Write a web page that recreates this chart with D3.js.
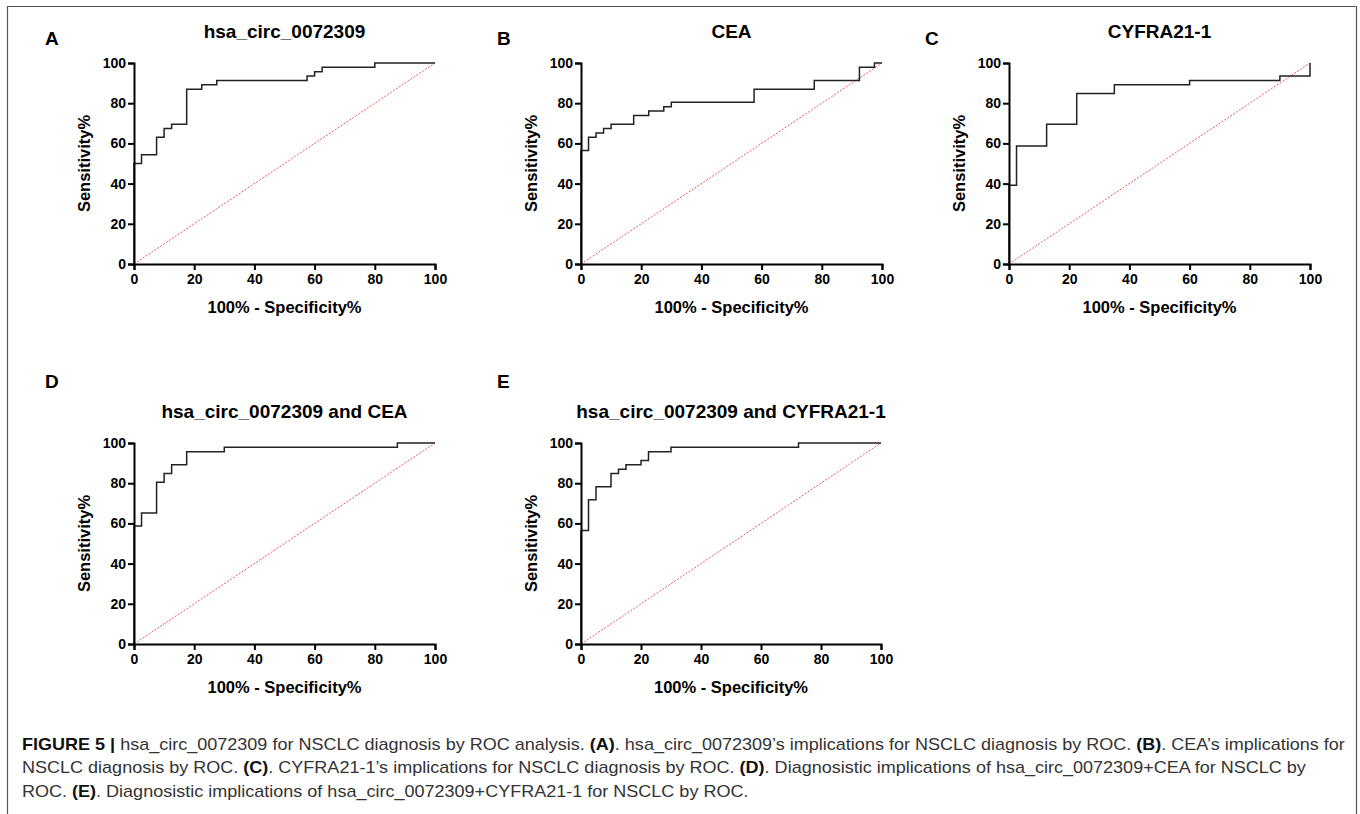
<!DOCTYPE html>
<html>
<head>
<meta charset="utf-8">
<script src="https://cdn.jsdelivr.net/npm/d3@7"></script>
<style>
  body { margin: 0; background: #ffffff; }
  svg { display: block; }
</style>
</head>
<body>
<div id="fig"></div>
<script>
// ROC points (x = 100% - specificity, y = sensitivity)
var rocA_fpr = [0, 0, 2.5, 7.5, 10, 12.5, 17.5, 22.5, 27.5, 57.5, 60, 62.5, 80, 100];
var rocA_tpr = [0, 50, 54.35, 63.04, 67.39, 69.57, 86.96, 89.13, 91.30, 93.48, 95.65, 97.83, 100, 100];

var rocB_fpr = [0, 0, 2.5, 5, 7.5, 10, 17.5, 22.5, 27.5, 30, 57.5, 77.5, 92.5, 97.5, 100];
var rocB_tpr = [0, 56.52, 63.04, 65.22, 67.39, 69.57, 73.91, 76.09, 78.26, 80.43, 86.96, 91.30, 97.83, 100, 100];

var rocC_fpr = [0, 0, 2.5, 12.5, 22.5, 35, 60, 90, 100];
var rocC_tpr = [0, 39.13, 58.70, 69.57, 84.78, 89.13, 91.30, 93.48, 100];

var rocD_fpr = [0, 0, 2.5, 7.5, 10, 12.5, 17.5, 30, 87.5, 100];
var rocD_tpr = [0, 58.70, 65.22, 80.43, 84.78, 89.13, 95.65, 97.83, 100, 100];

var rocE_fpr = [0, 0, 2.5, 5, 10, 12.5, 15, 20, 22.5, 30, 72.5, 100];
var rocE_tpr = [0, 56.52, 71.74, 78.26, 84.78, 86.96, 89.13, 91.30, 95.65, 97.83, 100, 100];

var panel_letters = ["A", "B", "C", "D", "E"];
var panel_titles = ["hsa_circ_0072309", "CEA", "CYFRA21-1", "hsa_circ_0072309 and CEA", "hsa_circ_0072309 and CYFRA21-1"];
var axis_ticks = [0, 20, 40, 60, 80, 100];
var x_label = "100% - Specificity%";
var y_label = "Sensitivity%";

// caption lines, [text, bold?]
var caption_lines = [
    [["FIGURE 5 |", true], [" hsa_circ_0072309 for NSCLC diagnosis by ROC analysis. ", false], ["(A)", true],
     [". hsa_circ_0072309\u2019s implications for NSCLC diagnosis by ROC. ", false], ["(B)", true], [". CEA\u2019s implications for", false]],
    [["NSCLC diagnosis by ROC. ", false], ["(C)", true], [". CYFRA21-1\u2019s implications for NSCLC diagnosis by ROC. ", false],
     ["(D)", true], [". Diagnosistic implications of hsa_circ_0072309+CEA for NSCLC by", false]],
    [["ROC. ", false], ["(E)", true], [". Diagnosistic implications of hsa_circ_0072309+CYFRA21-1 for NSCLC by ROC.", false]]
];

var W = 1360, H = 814;
var font = "'Liberation Sans', Arial, Helvetica, sans-serif";

var svg = d3.select("#fig").append("svg")
    .attr("width", W)
    .attr("height", H);

// figure frame (open at the bottom)
svg.append("path")
    .attr("d", "M7.5," + H + "V6.5H1356.5V" + H)
    .attr("fill", "none")
    .attr("stroke", "#555")
    .attr("stroke-width", 1.2);

// plot boxes: left, right, top, bottom of the data area, letter pos, title baseline
var layout = [
    {x0: 134, x1: 435, y0: 63, y1: 264, lx: 45, ly: 45, ty: 38},
    {x0: 581, x1: 882, y0: 63, y1: 264, lx: 497, ly: 45, ty: 38},
    {x0: 1009, x1: 1310, y0: 63, y1: 264, lx: 925, ly: 45, ty: 38},
    {x0: 134, x1: 435, y0: 443, y1: 644, lx: 45, ly: 388, ty: 418},
    {x0: 581, x1: 881, y0: 443, y1: 644, lx: 497, ly: 388, ty: 418}
];
var roc_fpr = [rocA_fpr, rocB_fpr, rocC_fpr, rocD_fpr, rocE_fpr];
var roc_tpr = [rocA_tpr, rocB_tpr, rocC_tpr, rocD_tpr, rocE_tpr];

for (var i = 0; i < layout.length; i++) {
    draw_panel(i);
}

function draw_panel(i) {
    var L = layout[i];
    var x = d3.scaleLinear().domain([0, 100]).range([L.x0, L.x1]);
    var y = d3.scaleLinear().domain([0, 100]).range([L.y1, L.y0]);
    var g = svg.append("g");

    // chance line (red dotted)
    g.append("line")
        .attr("x1", x(0)).attr("y1", y(0))
        .attr("x2", x(100)).attr("y2", y(100))
        .attr("stroke", "#ec5a5a")
        .attr("stroke-width", 1)
        .attr("stroke-dasharray", "2,1.5");

    // ROC staircase
    var pts = roc_fpr[i].map(function (d, j) { return [d, roc_tpr[i][j]]; });
    var line = d3.line()
        .x(function (d) { return x(d[0]); })
        .y(function (d) { return y(d[1]); })
        .curve(d3.curveStepAfter);
    g.append("path")
        .attr("d", line(pts))
        .attr("fill", "none")
        .attr("stroke", "#222")
        .attr("stroke-width", 1.5);

    // axes
    var xa = g.append("g")
        .attr("transform", "translate(0," + L.y1 + ")")
        .call(d3.axisBottom(x).tickValues(axis_ticks).tickSizeOuter(0).tickSize(6).tickPadding(4));
    var ya = g.append("g")
        .attr("transform", "translate(" + L.x0 + ",0)")
        .call(d3.axisLeft(y).tickValues(axis_ticks).tickSizeOuter(0).tickSize(6).tickPadding(2));
    [xa, ya].forEach(function (a) {
        a.select(".domain").attr("stroke", "#000").attr("stroke-width", 2);
        a.selectAll(".tick line").attr("stroke", "#000").attr("stroke-width", 2);
        a.selectAll(".tick text")
            .attr("fill", "#000")
            .style("font-family", font)
            .style("font-size", "14px")
            .style("font-weight", "bold");
    });

    // axis titles
    g.append("text")
        .attr("x", (L.x0 + L.x1) / 2)
        .attr("y", L.y1 + 49)
        .attr("text-anchor", "middle")
        .style("font-family", font).style("font-size", "16.5px").style("font-weight", "bold")
        .text(x_label);
    g.append("text")
        .attr("transform", "translate(" + (L.x0 - 44) + "," + ((L.y0 + L.y1) / 2) + ") rotate(-90)")
        .attr("text-anchor", "middle")
        .style("font-family", font).style("font-size", "16.5px").style("font-weight", "bold")
        .text(y_label);

    // title and panel letter
    g.append("text")
        .attr("x", (L.x0 + L.x1) / 2)
        .attr("y", L.ty)
        .attr("text-anchor", "middle")
        .style("font-family", font).style("font-size", "19px").style("font-weight", "bold")
        .text(panel_titles[i]);
    g.append("text")
        .attr("x", L.lx)
        .attr("y", L.ly)
        .style("font-family", font).style("font-size", "19px").style("font-weight", "bold")
        .text(panel_letters[i]);
}

// caption: one horizontal squeeze for all lines, taken from the first (full) line
var cap_base = [750, 773, 797];
var cap_texts = caption_lines.map(function (parts, k) {
    var t = svg.append("text")
        .attr("x", 0).attr("y", 0)
        .style("font-family", font)
        .style("font-size", "16px");
    parts.forEach(function (p) {
        t.append("tspan")
            .style("font-weight", p[1] ? "bold" : "normal")
            .attr("fill", p[1] ? "#111" : "#333")
            .text(p[0]);
    });
    return t;
});
var s = (1346 - 22) / cap_texts[0].node().getComputedTextLength();
cap_texts.forEach(function (t, k) {
    t.attr("transform", "translate(22," + cap_base[k] + ") scale(" + s + ",1)");
});
</script>
</body>
</html>
